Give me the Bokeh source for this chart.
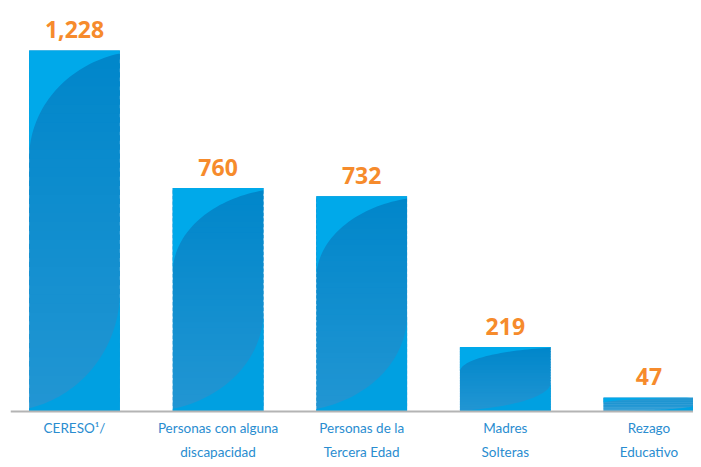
import numpy as np
from bokeh.plotting import figure
from bokeh.models import Range1d, Span
from bokeh.core.properties import value
from bokeh.embed import file_html
from bokeh.resources import INLINE

# ---- data ----
categories = ["CERESO¹/", "Personas con alguna\ndiscapacidad", "Personas de la\nTercera Edad",
              "Madres\nSolteras", "Rezago\nEducativo"]
values = [1228, 760, 732, 219, 47]
value_labels = ["1,228", "760", "732", "219", "47"]

# ---- layout ----
PX = 361.0 / 1228.0          # pixels per data unit
W_FIG, H_FIG = 693, 459
BASE_PX = 411                 # baseline distance from top of figure
LEFT = 10
UNIT = 143.6                  # pixels per category step
x0 = -(74 - LEFT) / UNIT
xs = np.arange(len(values))
hw = 0.316

p = figure(width=W_FIG, height=H_FIG,
           x_range=Range1d(x0, x0 + (W_FIG - LEFT) / UNIT),
           y_range=Range1d(-(H_FIG - BASE_PX) / PX, BASE_PX / PX),
           output_backend="svg", toolbar_location=None,
           min_border_left=LEFT, min_border_right=0, min_border_top=0, min_border_bottom=0)
p.axis.visible = False
p.grid.visible = False
p.outline_line_color = None
p.background_fill_color = "white"
p.border_fill_color = "white"


def hex2rgb(h):
    h = h.lstrip("#")
    return np.array([int(h[i:i + 2], 16) for i in (0, 2, 4)], dtype=float)


def rgb2hex(c):
    return "#%02x%02x%02x" % tuple(int(round(v)) for v in c)


top_c, bot_c = hex2rgb("#0086ca"), hex2rgb("#2296d3")
N = 40
ql, qr, qb, qt, qc = [], [], [], [], []
for x, v in zip(xs, values):
    for k in range(N):
        f = (k + 0.5) / N
        y0 = v * k / N
        y1 = v * (k + 1) / N
        if k < N - 1:
            y1 += v / N * 0.6
        ql.append(x - hw); qr.append(x + hw); qb.append(y0); qt.append(y1)
        qc.append(rgb2hex(bot_c * (1 - f) + top_c * f))
p.quad(left=ql, right=qr, bottom=qb, top=qt, fill_color=qc, line_color=None)

# curved highlights
up_x, up_y, lo_x, lo_y = [], [], [], []
for x, v in zip(xs, values):
    L, R, T, B = x - hw, x + hw, v, 0.0
    W = R - L
    h_px = v * PX
    a = min(0.38 * h_px, 108) / PX
    b = min(0.45 * h_px, 120) / PX
    rx = 1.3 * W
    tmax = np.arccos((rx - W) / rx)
    t = np.linspace(0, tmax, 40)
    ax = L + rx - rx * np.cos(t)
    ay = T - a + a * np.sin(t)
    up_x.append(list(ax) + [R, L]); up_y.append(list(ay) + [T, T])
    bx = R - rx + rx * np.cos(t)
    by = B + b - b * np.sin(t)
    lo_x.append(list(bx) + [L, R]); lo_y.append(list(by) + [B, B])
p.patches(up_x, up_y, fill_color="#00a9ea", line_color=None)
p.patches(lo_x, lo_y, fill_color="#00a0e1", line_color=None)

# baseline
p.add_layout(Span(location=0, dimension="width", line_color="#b4b4b4", line_width=2))

# value labels
p.text(x=xs, y=values, text=value_labels, text_align="center", text_baseline="alphabetic",
       y_offset=-21, text_font=value("Open Sans"), text_font_style="bold",
       text_font_size="23px", text_color="#f68b2c")

# category labels
p.text(x=xs, y=[0] * len(xs), text=categories, text_align="center", text_baseline="top",
       y_offset=8, text_font=value("Lato"), text_font_size="13.5px",
       text_line_height=1.55, text_color="#2a8dd0")

open("out.html", "w").write(file_html(p, INLINE))
